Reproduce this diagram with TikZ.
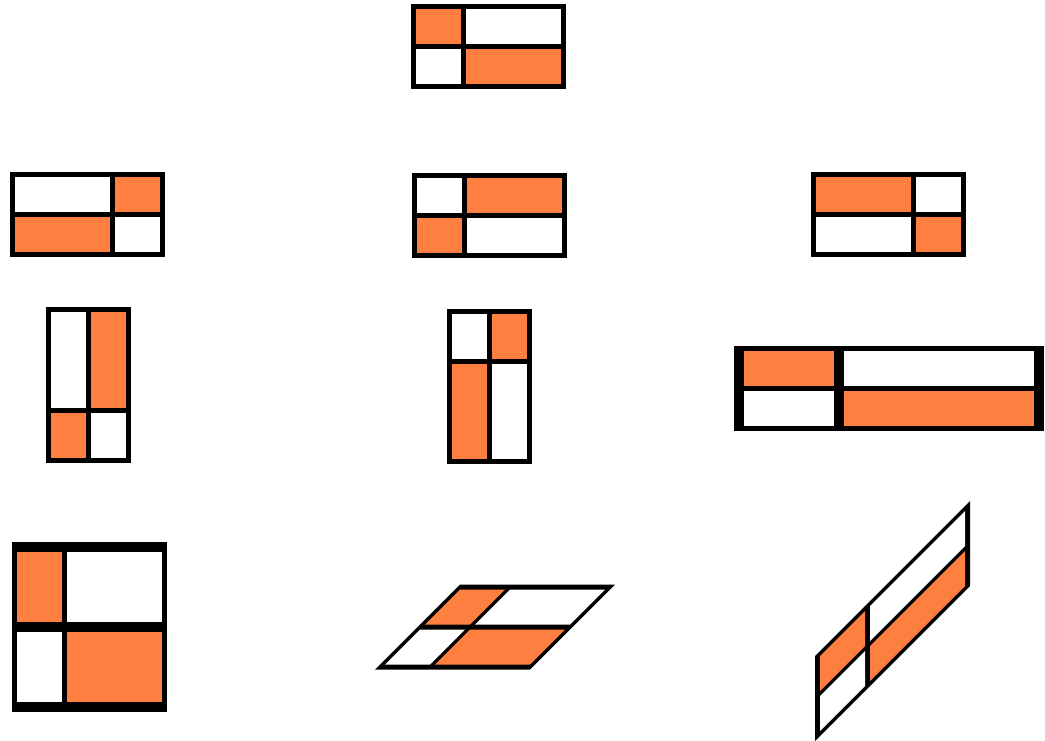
\documentclass[tikz,border=0pt]{standalone}
\usetikzlibrary{positioning}
\definecolor{tangerine}{RGB}{255,127,64}
\definecolor{ink}{RGB}{0,0,0}
\tikzset{
  % one panel: frame and bars as filled black, four cells cut into it
  pics/panel/.style={code={
    \fill[ink] (-1.55,-0.85) rectangle (1.55,0.85);
    \fill[tangerine] (-1.45,0.05) rectangle (-0.55,0.75);
    \fill[white] (-0.45,0.05) rectangle (1.45,0.75);
    \fill[white] (-1.45,-0.75) rectangle (-0.55,-0.05);
    \fill[tangerine] (-0.45,-0.75) rectangle (1.45,-0.05);
  }},
}

\begin{document}
\begin{tikzpicture}
  \useasboundingbox (0,0) rectangle (20.9,14.8);
  % original
  \pic (orig) at (9.77,13.86) {panel};
  % flips and half turn
  \pic[xscale=-1] (flipx) at (1.74,10.51) {panel};
  \pic[yscale=-1] (flipy) at (9.78,10.48) {panel};
  \pic[rotate=180] (turn) at (17.77,10.51) {panel};
  % quarter turns and stretch
  \pic[rotate=90] (left) at (1.77,7.1) {panel};
  \pic[rotate=-90] (right) at (9.79,7.07) {panel};
  \pic[xscale=2] (wide) at (17.77,7.04) {panel};
  % stretch and slants
  \pic[yscale=2] (tall) at (1.79,2.26) {panel};
  \pic[xslant=1] (slantx) at (9.9,2.26) {panel};
  \pic[yslant=1] (slanty) at (17.85,2.38) {panel};
\end{tikzpicture}
\end{document}
